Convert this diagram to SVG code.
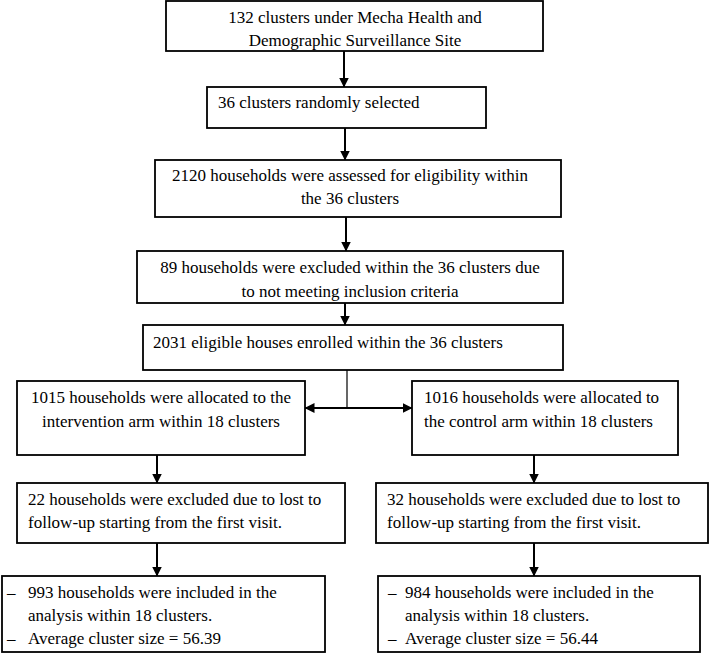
<svg xmlns="http://www.w3.org/2000/svg" width="710" height="653" viewBox="0 0 710 653">
<defs>
<marker id="ah" markerUnits="userSpaceOnUse" markerWidth="10" markerHeight="11" refX="9.5" refY="5" orient="auto">
<path d="M0,0 L10,5 L0,10 Z" fill="#000"/>
</marker>
</defs>
<rect width="710" height="653" fill="#fff"/>
<g id="connectors" stroke="#000" stroke-width="2" fill="none">
<line x1="344" y1="51" x2="344" y2="87" marker-end="url(#ah)"/>
<line x1="345" y1="128" x2="345" y2="160" marker-end="url(#ah)"/>
<line x1="346" y1="217" x2="346" y2="251" marker-end="url(#ah)"/>
<line x1="345" y1="303" x2="345" y2="325" marker-end="url(#ah)"/>
<line x1="347" y1="370" x2="347" y2="408" stroke-width="1.2"/>
<line x1="347" y1="408" x2="305" y2="408" marker-end="url(#ah)"/>
<line x1="347" y1="408" x2="412" y2="408" marker-end="url(#ah)"/>
<line x1="157" y1="455" x2="157" y2="483" marker-end="url(#ah)"/>
<line x1="534" y1="455" x2="534" y2="483" marker-end="url(#ah)"/>
<line x1="157" y1="543" x2="157" y2="576" marker-end="url(#ah)"/>
<line x1="534" y1="543" x2="534" y2="576" marker-end="url(#ah)"/>
</g>
<g id="n1">
<rect x="166" y="1" width="377" height="50" fill="#fff" stroke="#000" stroke-width="1.8"/>
<text font-family="Times New Roman" font-size="17" text-anchor="middle" x="355" y="23">132 clusters under Mecha Health and</text>
<text font-family="Times New Roman" font-size="17" text-anchor="middle" x="355" y="46">Demographic Surveillance Site</text>
</g>
<g id="n2">
<rect x="207" y="87" width="279" height="41" fill="#fff" stroke="#000" stroke-width="1.8"/>
<text font-family="Times New Roman" font-size="17" x="218" y="108">36 clusters randomly selected</text>
</g>
<g id="n3">
<rect x="155" y="160" width="406" height="57" fill="#fff" stroke="#000" stroke-width="1.8"/>
<text font-family="Times New Roman" font-size="17" text-anchor="middle" x="350" y="181">2120 households were assessed for eligibility within</text>
<text font-family="Times New Roman" font-size="17" text-anchor="middle" x="350" y="204">the 36 clusters</text>
</g>
<g id="n4">
<rect x="137" y="251" width="426" height="52" fill="#fff" stroke="#000" stroke-width="1.8"/>
<text font-family="Times New Roman" font-size="17" text-anchor="middle" x="350" y="273">89 households were excluded within the 36 clusters due</text>
<text font-family="Times New Roman" font-size="17" text-anchor="middle" x="350" y="297">to not meeting inclusion criteria</text>
</g>
<g id="n5">
<rect x="143" y="325" width="420" height="45" fill="#fff" stroke="#000" stroke-width="1.8"/>
<text font-family="Times New Roman" font-size="17" x="153" y="348">2031 eligible houses enrolled within the 36 clusters</text>
</g>
<g id="n6">
<rect x="17" y="381" width="288" height="74" fill="#fff" stroke="#000" stroke-width="1.8"/>
<text font-family="Times New Roman" font-size="17" text-anchor="middle" x="161" y="403">1015 households were allocated to the</text>
<text font-family="Times New Roman" font-size="17" text-anchor="middle" x="161" y="427">intervention arm within 18 clusters</text>
</g>
<g id="n7">
<rect x="412" y="381" width="266" height="74" fill="#fff" stroke="#000" stroke-width="1.8"/>
<text font-family="Times New Roman" font-size="17" x="424" y="403">1016 households were allocated to</text>
<text font-family="Times New Roman" font-size="17" x="424" y="427">the control arm within 18 clusters</text>
</g>
<g id="n8">
<rect x="17" y="483" width="328" height="60" fill="#fff" stroke="#000" stroke-width="1.8"/>
<text font-family="Times New Roman" font-size="17" x="28" y="505">22 households were excluded due to lost to</text>
<text font-family="Times New Roman" font-size="17" x="28" y="528">follow-up starting from the first visit.</text>
</g>
<g id="n9">
<rect x="376" y="483" width="332" height="60" fill="#fff" stroke="#000" stroke-width="1.8"/>
<text font-family="Times New Roman" font-size="17" x="387" y="505">32 households were excluded due to lost to</text>
<text font-family="Times New Roman" font-size="17" x="387" y="528">follow-up starting from the first visit.</text>
</g>
<g id="n10">
<rect x="2" y="576" width="323" height="76" fill="#fff" stroke="#000" stroke-width="1.8"/>
<text font-family="Times New Roman" font-size="17" x="7" y="598">–</text>
<text font-family="Times New Roman" font-size="17" x="28" y="598">993 households were included in the</text>
<text font-family="Times New Roman" font-size="17" x="28" y="621">analysis within 18 clusters.</text>
<text font-family="Times New Roman" font-size="17" x="7" y="644">–</text>
<text font-family="Times New Roman" font-size="17" x="28" y="644">Average cluster size = 56.39</text>
</g>
<g id="n11">
<rect x="378" y="576" width="322" height="76" fill="#fff" stroke="#000" stroke-width="1.8"/>
<text font-family="Times New Roman" font-size="17" x="388" y="598">–</text>
<text font-family="Times New Roman" font-size="17" x="405" y="598">984 households were included in the</text>
<text font-family="Times New Roman" font-size="17" x="405" y="621">analysis within 18 clusters.</text>
<text font-family="Times New Roman" font-size="17" x="388" y="644">–</text>
<text font-family="Times New Roman" font-size="17" x="405" y="644">Average cluster size = 56.44</text>
</g>
</svg>
